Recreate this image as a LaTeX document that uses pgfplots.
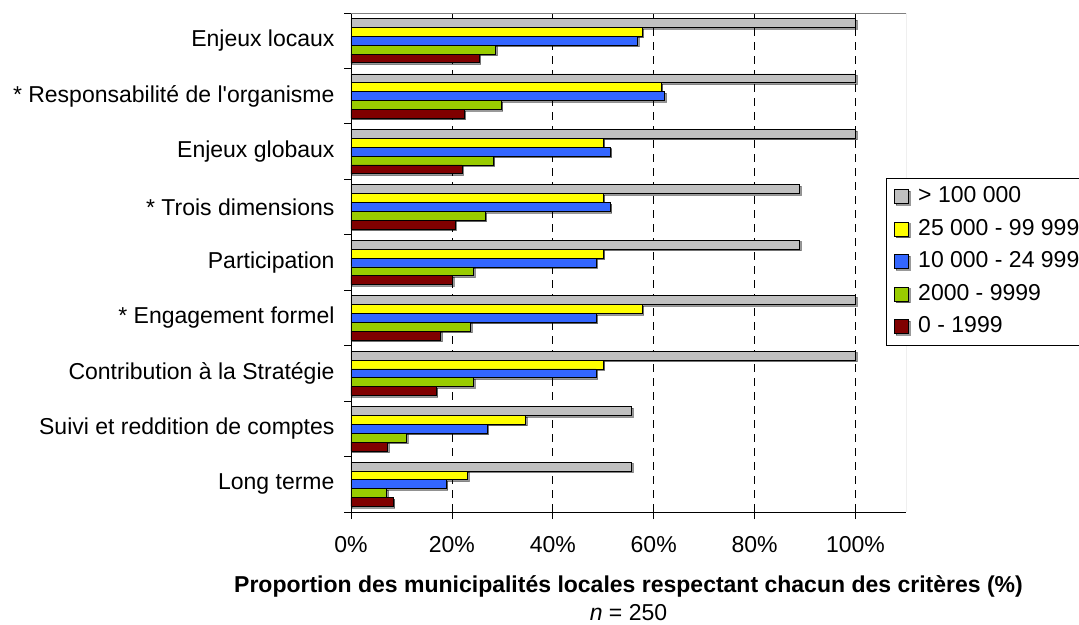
\documentclass[border=0pt]{standalone}
\usepackage{pgfplots}
\pgfplotsset{compat=1.18}
\usepackage{fontspec}
\setmainfont{Liberation Sans}
\usetikzlibrary{shadows}
\definecolor{cgray}{HTML}{C0C0C0}
\definecolor{cyellow}{HTML}{FFFF00}
\definecolor{cblue}{HTML}{3366FF}
\definecolor{cgreen}{HTML}{99CC00}
\definecolor{cred}{HTML}{800000}
\begin{document}
\begin{tikzpicture}
\useasboundingbox (0,0) rectangle (1079pt,624pt);
\clip (0,0) rectangle (1079pt,624pt);
\begin{axis}[
  at={(351pt,112pt)}, anchor=south west,
  scale only axis, width=555pt, height=499pt,
  xmin=0, xmax=110, ymin=-0.5, ymax=8.5,
  font=\fontsize{23}{27}\selectfont,
  /pgf/number format/assume math mode=true,
  axis lines*=left,
  axis line style={black, line width=0.8pt},
  xtick={0,20,40,60,80,100},
  xticklabel={\pgfmathprintnumber{\tick}\%},
  xtick pos=lower, ytick pos=left,
  tick align=outside, major tick length=7pt,
  tick style={black, line width=0.8pt},
  ytick={-0.5,0.5,1.5,2.5,3.5,4.5,5.5,6.5,7.5,8.5},
  yticklabels={Long terme, Suivi et reddition de comptes, Contribution à la Stratégie, * Engagement formel, Participation, * Trois dimensions, Enjeux globaux, * Responsabilité de l\textquotesingle organisme, Enjeux locaux, {}},
  yticklabel style={yshift=27.7pt, xshift=-6pt},
  xticklabel style={yshift=-14pt},
  xmajorgrids, grid style={black, line width=0.8pt, dash pattern=on 8pt off 6pt},
  xlabel={\textbf{Proportion des municipalités locales respectant chacun des critères (\%)}},
  xlabel style={at={(rel axis cs:0.5,0)}, anchor=base, yshift=-80pt, inner sep=0pt},
  bar width=0.16,
  every axis plot/.append style={draw=black, line width=0.8pt,
     drop shadow={shadow xshift=1.5pt, shadow yshift=-1.5pt, fill=black, opacity=0.4}},
  legend style={at={(rel axis cs:0.964,0.669)}, anchor=north west, draw=black, line width=0.8pt,
     font=\fontsize{23}{27}\selectfont, inner xsep=2pt, inner ysep=2pt,
     nodes={text height=16pt, text depth=4.5pt, inner ysep=6pt, inner xsep=3pt}},
  legend cell align=left,
  legend image code/.code={\path (0pt,0pt) (26pt,0pt); \draw[#1] (6pt,-7pt) rectangle (20pt,7pt);},
]
\draw[gray, line width=0.8pt] (rel axis cs:0,1) -- (rel axis cs:1,1) -- (rel axis cs:1,0);
\addplot[xbar, bar shift=0.32, fill=cgray] coordinates {
  (100,8) (100,7) (100,6) (88.9,5) (88.9,4) (100,3) (100,2) (55.6,1) (55.6,0)};
\addplot[xbar, bar shift=0.16, fill=cyellow] coordinates {
  (57.7,8) (61.5,7) (50,6) (50,5) (50,4) (57.7,3) (50,2) (34.6,1) (23.1,0)};
\addplot[xbar, bar shift=0, fill=cblue] coordinates {
  (56.8,8) (62.2,7) (51.4,6) (51.4,5) (48.6,4) (48.6,3) (48.6,2) (27.0,1) (18.9,0)};
\addplot[xbar, bar shift=-0.16, fill=cgreen] coordinates {
  (28.7,8) (29.8,7) (28.2,6) (26.6,5) (24.3,4) (23.7,3) (24.3,2) (11.0,1) (7.1,0)};
\addplot[xbar, bar shift=-0.32, fill=cred] coordinates {
  (25.4,8) (22.4,7) (22.0,6) (20.6,5) (20.1,4) (17.8,3) (16.9,2) (7.3,1) (8.4,0)};
\legend{> 100 000, 25 000 - 99 999, 10 000 - 24 999, 2000 - 9999, 0 - 1999}
\end{axis}
\node[anchor=base, inner sep=0pt, font=\fontsize{23}{27}\selectfont] at (628.5pt,4pt) {\textit{n} = 250};
\end{tikzpicture}
\end{document}
